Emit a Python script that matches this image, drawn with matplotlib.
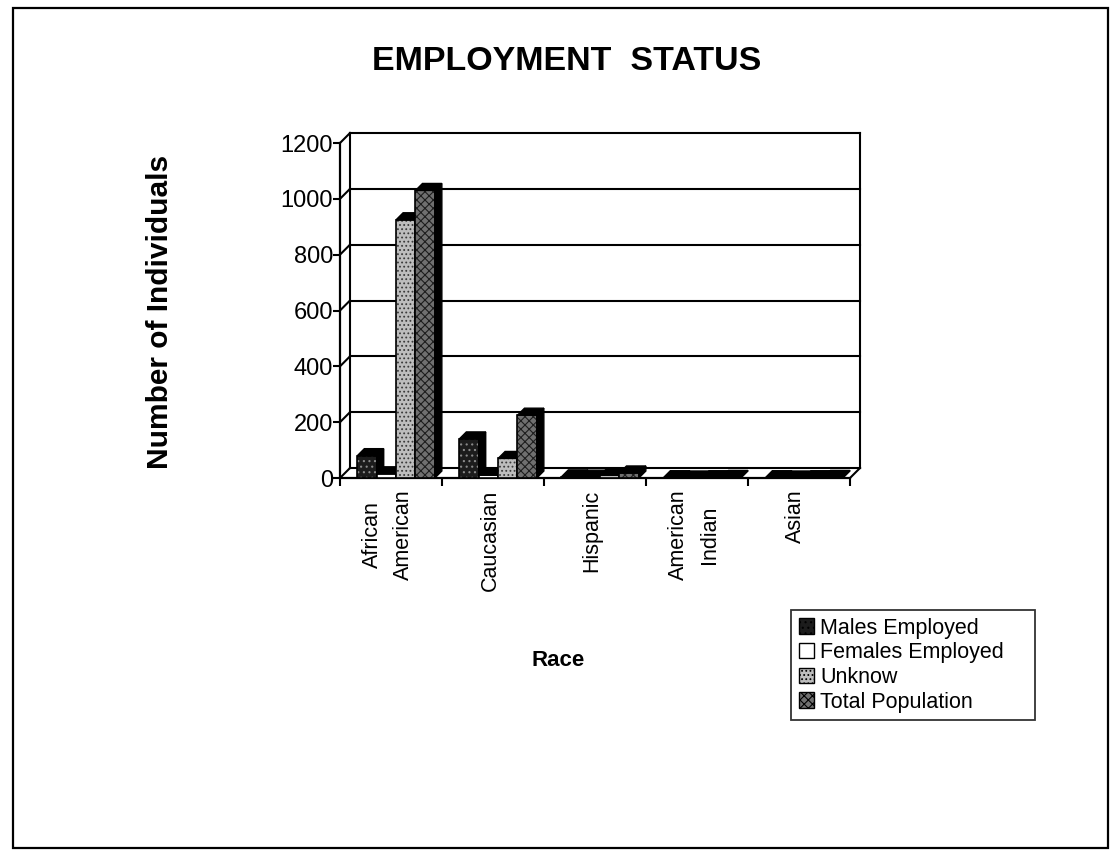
import matplotlib
matplotlib.use("Agg")
import matplotlib.pyplot as plt
from matplotlib.patches import Polygon, Rectangle, Patch
import matplotlib.transforms as mtrans
import numpy as np

plt.rcParams['font.family'] = ['Liberation Sans', 'DejaVu Sans']
plt.rcParams['hatch.linewidth'] = 0.8

# ---- data ----
categories = ["African\nAmerican", "Caucasian", "Hispanic", "American\nIndian", "Asian"]
series_names = ["Males Employed", "Females Employed", "Unknow", "Total Population"]
males_employed = [80, 140, 4, 1, 1]
females_employed = [15, 10, 3, 0, 0]
unknown = [925, 70, 10, 1, 1]
total_population = [1030, 225, 18, 2, 2]
yticks = [0, 200, 400, 600, 800, 1000, 1200]

series = [males_employed, females_employed, unknown, total_population]
styles = [
    dict(face="#1c1c1c", hatch="...", hcol="#8a8a8a"),
    dict(face="#ffffff", hatch=None, hcol="#ffffff"),
    dict(face="#bdbdbd", hatch="....", hcol="#3a3a3a"),
    dict(face="#707070", hatch="xxxx", hcol="#1e1e1e"),
]

W, H = 1118, 860
fig = plt.figure(figsize=(W / 100, H / 100), dpi=100)

# outer frame
fig.patches.append(Rectangle((13 / W, 1 - 848 / H), (1108 - 13) / W, (848 - 8) / H,
                             transform=fig.transFigure, fill=False, lw=1.6,
                             edgecolor="black", zorder=0))

ax = fig.add_axes([340 / W, 1 - 478 / H, 510 / W, 335 / H])
ax.set_xlim(-0.5, len(categories) - 0.5)
ax.set_ylim(0, 1200)
ax.patch.set_visible(False)
for s in ["top", "right"]:
    ax.spines[s].set_visible(False)
ax.spines["left"].set_linewidth(1.6)
ax.spines["bottom"].set_linewidth(1.6)


def px2data(dx_px, dy_px):
    x0, y0 = ax.transData.transform((0, 0))
    p = ax.transData.inverted().transform((x0 + dx_px, y0 + dy_px))
    return p[0], p[1]


dxw, dyw = px2data(10, 10)   # wall depth
dxb, dyb = px2data(7, 7)     # bar depth
xl, xr = -0.5, len(categories) - 0.5

# walls & gridlines
lk = dict(color="black", lw=1.5, clip_on=False, zorder=1)
for v in yticks:
    ax.plot([xl + dxw, xr + dxw], [v + dyw, v + dyw], **lk)
    ax.plot([xl, xl + dxw], [v, v + dyw], **lk)
ax.plot([xl + dxw, xl + dxw], [dyw, 1200 + dyw], **lk)
ax.plot([xr + dxw, xr + dxw], [dyw, 1200 + dyw], **lk)
ax.plot([xr, xr + dxw], [0, dyw], **lk)

# bars
w = 0.19
shift = 0.05
z = 3
for ci in range(len(categories)):
    for si, vals in enumerate(series):
        st = styles[si]
        x = ci + shift + (si - 1.5) * w
        h = vals[ci]
        ax.bar(x, h, width=w, color=st["face"], hatch=st["hatch"],
               edgecolor=st["hcol"], lw=0, zorder=z, clip_on=False)
        ax.bar(x, h, width=w, fill=False, edgecolor="black", lw=1.2,
               zorder=z + 0.1, clip_on=False)
        xa, xb = x - w / 2, x + w / 2
        top = Polygon([(xa, h), (xb, h), (xb + dxb, h + dyb), (xa + dxb, h + dyb)],
                      closed=True, facecolor="black", edgecolor="black", lw=1,
                      zorder=z + 0.2, clip_on=False)
        side = Polygon([(xb, 0), (xb, h), (xb + dxb, h + dyb), (xb + dxb, dyb)],
                       closed=True, facecolor="black", edgecolor="black", lw=1,
                       zorder=z + 0.2, clip_on=False)
        ax.add_patch(top)
        ax.add_patch(side)
        z += 1

# axes ticks
ax.set_yticks(yticks)
ax.set_yticklabels([str(v) for v in yticks], fontsize=17)
ax.tick_params(axis="y", direction="out", length=5, width=1.5, pad=0)
ax.set_xticks(np.arange(len(categories) + 1) - 0.5)
ax.set_xticklabels([])
ax.tick_params(axis="x", direction="out", length=6, width=1.5)

btr = mtrans.blended_transform_factory(ax.transData, ax.transAxes)
for ci, lab in enumerate(categories):
    ax.text(ci - 0.03, -0.035, lab, transform=btr, rotation=90, ha="center", va="top",
            multialignment="center", fontsize=15.5, linespacing=1.65)

# titles
fig.text(567 / W, 1 - 62 / H, "EMPLOYMENT  STATUS", ha="center", va="center",
         fontsize=24.5, fontweight="bold")
fig.text(160 / W, 1 - 312 / H, "Number of Individuals", ha="center", va="center",
         rotation=90, fontsize=21.5, fontweight="bold")
fig.text(558 / W, 1 - 661 / H, "Race", ha="center", va="center",
         fontsize=16, fontweight="bold")

# legend
handles = [Patch(facecolor=st["face"], hatch=st["hatch"], edgecolor="black", lw=1)
           for st in styles]
lx0, ly0, lx1, ly1 = 791, 610, 1035, 718
leg = fig.legend(handles, series_names, loc="upper left",
                 bbox_to_anchor=(lx0 / W, 1 - ly1 / H, (lx1 - lx0) / W, (ly1 - ly0) / H),
                 mode="expand", borderaxespad=0,
                 fontsize=15.5, frameon=True, fancybox=False, shadow=False,
                 handlelength=0.7, handleheight=0.7, handletextpad=0.3,
                 labelspacing=0.17, borderpad=0.35)
leg.get_frame().set_edgecolor("black")
leg.get_frame().set_linewidth(1.3)

fig.savefig("out.png", dpi=100)
